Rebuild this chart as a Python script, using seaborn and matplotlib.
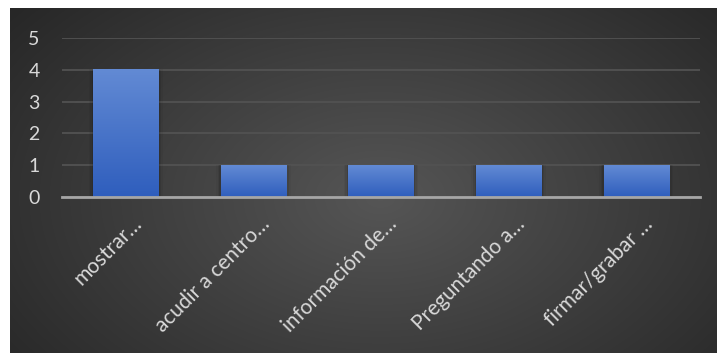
import matplotlib
matplotlib.use("Agg")
import matplotlib.pyplot as plt
import matplotlib.transforms as mtransforms
import numpy as np
import pandas as pd
import seaborn as sns

categories = ["mostrar…", "acudir a centro…", "información de…", "Preguntando a…", "firmar/grabar …"]
counts = [4, 1, 1, 1, 1]
y_ticks = [0, 1, 2, 3, 4, 5]

df = pd.DataFrame({"categoria": categories, "n": counts})

sns.set_style("dark")
plt.rcParams["font.family"] = ["Lato", "DejaVu Sans"]

W, H = 717, 353
fig = plt.figure(figsize=(W / 100, H / 100), dpi=100, facecolor="white")

# dark panel with radial gradient (Excel dark style)
bg = fig.add_axes([10 / W, 0, 1 - 10 / W, 1 - 8 / H])
yy, xx = np.mgrid[0:345, 0:707]
r = np.sqrt(((xx - 370) / 520.0) ** 2 + ((yy - 190) / 330.0) ** 2)
shade = np.clip(0.335 - 0.2 * r, 0.15, 0.34)
bg.imshow(np.dstack([shade] * 3), aspect="auto", extent=[0, 1, 0, 1])
bg.set_axis_off()

ax = fig.add_axes([62 / W, 1 - 197 / H, (700 - 62) / W, (197 - 38) / H])
ax.patch.set_alpha(0)
sns.barplot(data=df, x="categoria", y="n", color="#4472c4", width=0.51,
            saturation=1, linewidth=0, ax=ax, zorder=3)

# gradient fill on the bars
grad = np.linspace(0, 1, 100).reshape(-1, 1, 1)
top = np.array([0x62, 0x8a, 0xd4]) / 255
bot = np.array([0x2f, 0x5e, 0xbd]) / 255
img = bot + (top - bot) * grad * np.ones((1, 2, 3))
for p in list(ax.patches):
    x0, y0 = p.get_x(), p.get_y()
    w, h = p.get_width(), p.get_height()
    p.set_visible(False)
    # soft shadow around the bar
    for k, a in enumerate([0.10, 0.07, 0.04]):
        d = 0.012 * (k + 1)
        ax.bar(x0 + w / 2, h + d * 0.3, width=w + 2 * d, bottom=y0,
               color="black", alpha=a, zorder=2, linewidth=0)
    ax.imshow(img, extent=[x0, x0 + w, y0, y0 + h], origin="lower",
              aspect="auto", zorder=4, interpolation="bilinear")

ax.set_xlim(-0.5, len(categories) - 0.5)
ax.set_ylim(0, 5)
ax.set_yticks(y_ticks)
ax.grid(axis="y", color="#525252", linewidth=1.3, zorder=0)
ax.grid(axis="x", visible=False)
for s in ["top", "right", "left"]:
    ax.spines[s].set_visible(False)
ax.spines["bottom"].set_color("#a6a6a6")
ax.spines["bottom"].set_linewidth(2)
ax.spines["bottom"].set_zorder(5)
ax.set_xlabel("")
ax.set_ylabel("")
ax.tick_params(axis="y", colors="#d9d9d9", labelsize=14, length=0, pad=16)
ax.tick_params(axis="x", colors="#d9d9d9", labelsize=15, length=0, pad=12)
ax.set_xticks(range(len(categories)))
ax.set_xticklabels(categories, rotation=45, ha="right", rotation_mode="anchor")
off = mtransforms.ScaledTranslation(6 / 100, 0, fig.dpi_scale_trans)
for lbl in ax.get_xticklabels():
    lbl.set_transform(lbl.get_transform() + off)

fig.savefig("out.png", dpi=100, facecolor="white")
